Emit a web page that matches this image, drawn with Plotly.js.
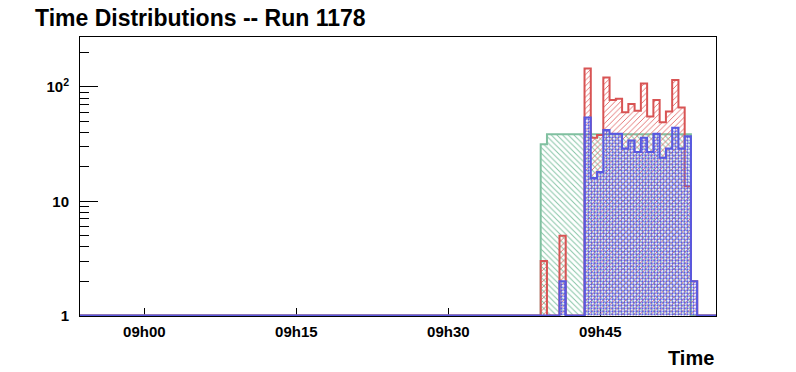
<!DOCTYPE html>
<html>
<head>
<meta charset="utf-8">
<script src="https://cdn.plot.ly/plotly-3.0.1.min.js"></script>
<style>html,body{margin:0;padding:0;background:#fff;}#chart{width:796px;height:372px;}</style>
</head>
<body>
<div id="chart"></div>
<script>
// ---- data ----
const titleText = 'Time Distributions -- Run 1178';
const xTitle = 'Time';
const axisStart = '2024-01-01 08:53:39';
const axisEnd = '2024-01-01 09:56:25';
const binStart = '2024-01-01 09:39:07';
const binWidthSec = 37.07;
const greenCounts = [31.5, 38.5, 38.5, 38.5, 38.5, 38.5, 38.5, 38.5, 38.5, 38.5, 38.5, 38.5, 38.5, 38.5, 38.5, 38.5, 38.5, 38.5, 38.5, 38.5, 38.5, 38.5, 38.5, 38.5, 0];
const redCounts   = [3, 0, 0, 5, 0, 0, 0, 145, 36, 38, 121, 77, 79, 60, 71, 62, 107, 55, 77, 49, 61, 115, 66, 13.5, 2];
const blueCounts  = [0, 0, 0, 2, 0, 0, 0, 54, 16, 18, 42, 39, 39, 29, 34, 27, 36, 27, 39, 24, 29, 44, 29, 37, 2];
const yTickVals = [1, 10, 100];
const yTickText = ['1', '10', '10<sup>2</sup>'];
const yMin = 1, yMaxLog = 2.437;

// ---- helpers ----
function pad(n){return (n<10?'0':'')+n;}
function fmt(ms){const d=new Date(ms);return d.getUTCFullYear()+'-'+pad(d.getUTCMonth()+1)+'-'+pad(d.getUTCDate())+' '+pad(d.getUTCHours())+':'+pad(d.getUTCMinutes())+':'+pad(d.getUTCSeconds())+'.'+String(d.getUTCMilliseconds()).padStart(3,'0');}
function ms(s){return Date.parse(s.replace(' ','T')+'Z');}
function stepPath(counts){
  const t0 = ms(binStart), w = binWidthSec*1000;
  const xs=[axisStart], ys=[yMin];
  xs.push(fmt(t0)); ys.push(yMin);
  for(let i=0;i<counts.length;i++){
    const v = Math.max(counts[i], yMin);
    xs.push(fmt(t0+i*w)); ys.push(v);
    xs.push(fmt(t0+(i+1)*w)); ys.push(v);
  }
  xs.push(fmt(t0+counts.length*w)); ys.push(yMin);
  xs.push(axisEnd); ys.push(yMin);
  return {xs, ys};
}
function histTrace(counts, color, patColor, shape, size, sol){
  const p = stepPath(counts);
  return {x:p.xs, y:p.ys, type:'scatter', mode:'lines', fill:'toself',
    line:{color:color, width:2, shape:'linear'},
    fillcolor:'rgba(0,0,0,0)',
    fillpattern:{shape:shape, fgcolor:patColor, bgcolor:'rgba(0,0,0,0)', size:size, solidity:sol},
    hoverinfo:'skip', showlegend:false};
}

const data = [
  histTrace(greenCounts, '#80c0a0', '#86c4a6', '\\', 4, 0.25),
  histTrace(redCounts, '#d85454', '#e06464', '/', 4, 0.22),
  histTrace(blueCounts, '#5858e0', '#5c5ce2', '.', 3, 0.45)
];

const font = {family:'Liberation Sans, Arial, sans-serif', color:'#000', weight:'bold'};
const layout = {
  width:796, height:372,
  margin:{l:80, r:80, t:37, b:56, pad:0},
  paper_bgcolor:'#fff', plot_bgcolor:'#fff',
  font:font,
  title:{text:titleText, font:Object.assign({}, font, {size:23}), x:35/796, xanchor:'left', xref:'container', y:1-18/372, yanchor:'middle', yref:'container'},
  xaxis:{type:'date', range:[axisStart, axisEnd], showgrid:false, zeroline:false,
    showline:true, mirror:true, linecolor:'#000', linewidth:1,
    ticks:'inside', ticklen:8, tickcolor:'#000', tickwidth:1,
    tick0:'2024-01-01 09:00:00', dtick:15*60*1000, tickformat:'%Hh%M',
    tickfont:Object.assign({}, font, {size:15}), layer:'below traces', ticklabelstandoff:2},
  yaxis:{type:'log', range:[-0.004, yMaxLog], showgrid:false, zeroline:false,
    showline:true, mirror:true, linecolor:'#000', linewidth:1,
    ticks:'inside', ticklen:18, tickcolor:'#000', tickwidth:1,
    tickvals:yTickVals, ticktext:yTickText,
    minor:{ticks:'inside', ticklen:9, tickcolor:'#000', dtick:'D1', showgrid:false},
    tickfont:Object.assign({}, font, {size:15}), layer:'below traces', ticklabelstandoff:7},
  annotations:[{text:xTitle, xref:'paper', yref:'paper', x:1, y:-0.105, xanchor:'right', yanchor:'top', showarrow:false,
    font:Object.assign({}, font, {size:20})}]
};
Plotly.newPlot('chart', data, layout, {staticPlot:true, displayModeBar:false});
</script>
</body>
</html>
